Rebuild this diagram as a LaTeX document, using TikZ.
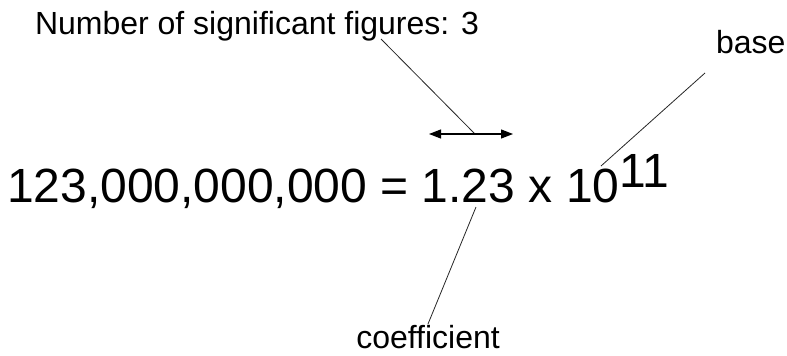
\documentclass[tikz,border=0pt]{standalone}
\usepackage{fontspec}
\setmainfont{Liberation Sans}
\usetikzlibrary{arrows.meta}
\tikzset{
  lbl/.style={inner sep=0pt, outer sep=0pt, font=\fontsize{32}{36}\selectfont},
  big/.style={inner sep=0pt, outer sep=0pt, font=\fontsize{48}{56}\selectfont},
  conn/.style={line width=0.8pt, draw=black!85},
  dbl/.style={line width=1.2pt, {Triangle[length=12pt,width=9pt]}-{Triangle[length=12pt,width=9pt]}}
}
\begin{document}
\begin{tikzpicture}[x=1pt,y=-1pt]
\useasboundingbox (0,0) rectangle (787,356);
\node[lbl, anchor=base west] (title) at (35,34) {Number of significant figures: 3};
\node[lbl, anchor=base west] (base) at (716,53) {base};
\node[lbl, anchor=base] (coef) at (428,348) {coefficient};
\node[big, anchor=base west] (eq) at (7,202) {123,000,000,000 = 1.23 x 10};
\node[big, anchor=base west] (sup) at ([yshift=15pt]eq.base east) {11};
\coordinate (tA) at (381,39);
\coordinate (aM) at (475,134);
\coordinate (aL) at (429,134);
\coordinate (aR) at (513,134);
\coordinate (bA) at (705,73);
\coordinate (bB) at (601,166);
\coordinate (cA) at (428,324);
\coordinate (cB) at (476,207);
\draw[conn] (tA) -- (aM);
\draw[dbl] (aL) -- (aR);
\draw[conn] (bA) -- (bB);
\draw[conn] (cA) -- (cB);
\end{tikzpicture}
\end{document}
